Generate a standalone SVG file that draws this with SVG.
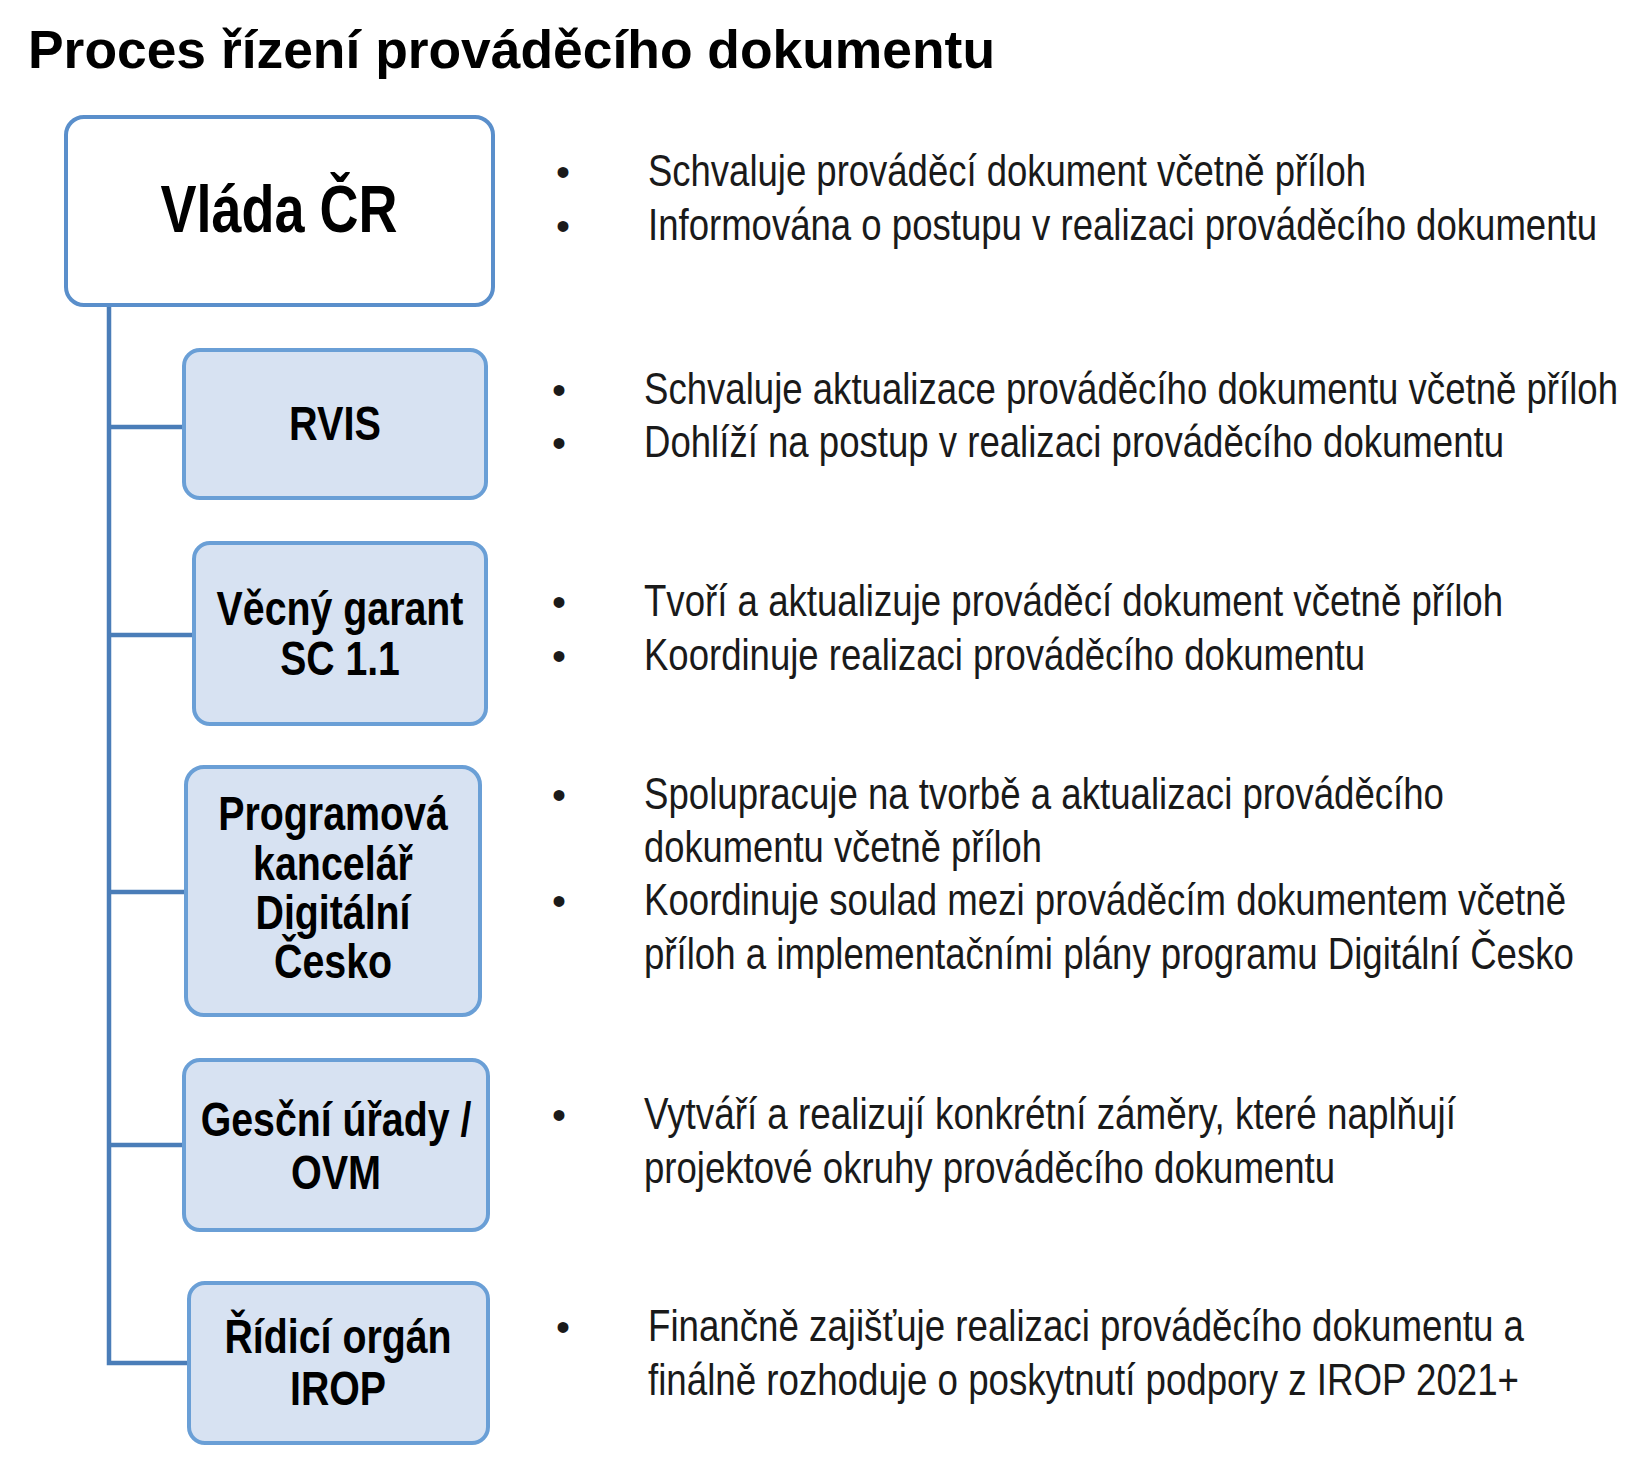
<svg xmlns="http://www.w3.org/2000/svg" width="1646" height="1468" viewBox="0 0 1646 1468">
<style>
.title{font-family:"Liberation Sans",Arial,sans-serif;font-weight:bold;font-size:53.5px;fill:#000}
.box{fill:#D7E2F2;stroke:#6A9FD6;stroke-width:4}
.top{fill:#FFFFFF;stroke:#5A8FCB;stroke-width:4}
.lbl{font-family:"Liberation Sans",Arial,sans-serif;font-weight:bold;font-size:48px;fill:#000;text-anchor:middle}
.big{font-size:66px}
.txt{font-family:"Liberation Sans",Arial,sans-serif;font-size:44px;fill:#1A1A1A}
.bul{font-family:"Liberation Sans",Arial,sans-serif;font-size:40px;fill:#1A1A1A}
.con{fill:none;stroke:#4A7DB8;stroke-width:4.5}
</style>
<rect width="1646" height="1468" fill="#FFFFFF"/>
<text class="title" x="28" y="68" textLength="967" lengthAdjust="spacingAndGlyphs">Proces řízení prováděcího dokumentu</text>

<g id="connectors">
<path class="con" d="M109,305 V1363 H189"/>
<path class="con" d="M109,427 H184"/>
<path class="con" d="M109,635 H194"/>
<path class="con" d="M109,892 H186"/>
<path class="con" d="M109,1145 H184"/>
</g>

<g id="vlada">
<rect class="top" x="66" y="117" width="427" height="188" rx="18"/>
<text class="lbl big" transform="matrix(0.82 0 0 1 279 232)" textLength="289" lengthAdjust="spacingAndGlyphs">Vláda ČR</text>
</g>
<g id="rvis">
<rect class="box" x="184" y="350" width="302" height="148" rx="16"/>
<text class="lbl" transform="matrix(0.82 0 0 1 335 440)" textLength="112" lengthAdjust="spacingAndGlyphs">RVIS</text>
</g>
<g id="vecny-garant">
<rect class="box" x="194" y="543" width="292" height="181" rx="16"/>
<text class="lbl" transform="matrix(0.82 0 0 1 340 625)" textLength="301" lengthAdjust="spacingAndGlyphs">Věcný garant</text>
<text class="lbl" transform="matrix(0.82 0 0 1 340 675)" textLength="146" lengthAdjust="spacingAndGlyphs">SC 1.1</text>
</g>
<g id="programova-kancelar">
<rect class="box" x="186" y="767" width="294" height="248" rx="18"/>
<text class="lbl" transform="matrix(0.82 0 0 1 333 830)" textLength="280" lengthAdjust="spacingAndGlyphs">Programová</text>
<text class="lbl" transform="matrix(0.82 0 0 1 333 880)" textLength="195" lengthAdjust="spacingAndGlyphs">kancelář</text>
<text class="lbl" transform="matrix(0.82 0 0 1 333 929)" textLength="189" lengthAdjust="spacingAndGlyphs">Digitální</text>
<text class="lbl" transform="matrix(0.82 0 0 1 333 978)" textLength="144" lengthAdjust="spacingAndGlyphs">Česko</text>
</g>
<g id="gescni-urady">
<rect class="box" x="184" y="1060" width="304" height="170" rx="16"/>
<text class="lbl" transform="matrix(0.82 0 0 1 336 1136)" textLength="330" lengthAdjust="spacingAndGlyphs">Gesční úřady /</text>
<text class="lbl" transform="matrix(0.82 0 0 1 336 1189)" textLength="110" lengthAdjust="spacingAndGlyphs">OVM</text>
</g>
<g id="ridici-organ">
<rect class="box" x="189" y="1283" width="299" height="160" rx="16"/>
<text class="lbl" transform="matrix(0.82 0 0 1 338 1353)" textLength="277" lengthAdjust="spacingAndGlyphs">Řídicí orgán</text>
<text class="lbl" transform="matrix(0.82 0 0 1 338 1405)" textLength="117" lengthAdjust="spacingAndGlyphs">IROP</text>
</g>

<g id="desc-vlada">
<text class="bul" x="556" y="186">•</text>
<text class="bul" x="556" y="240">•</text>
<text class="txt" transform="matrix(0.82 0 0 1 648 186)" textLength="875.6" lengthAdjust="spacingAndGlyphs">Schvaluje prováděcí dokument včetně příloh</text>
<text class="txt" transform="matrix(0.82 0 0 1 648 240)" textLength="1157.3" lengthAdjust="spacingAndGlyphs">Informována o postupu v realizaci prováděcího dokumentu</text>
</g>
<g id="desc-rvis">
<text class="bul" x="552" y="404">•</text>
<text class="bul" x="552" y="457">•</text>
<text class="txt" transform="matrix(0.82 0 0 1 644 404)" textLength="1187.8" lengthAdjust="spacingAndGlyphs">Schvaluje aktualizace prováděcího dokumentu včetně příloh</text>
<text class="txt" transform="matrix(0.82 0 0 1 644 457)" textLength="1048.8" lengthAdjust="spacingAndGlyphs">Dohlíží na postup v realizaci prováděcího dokumentu</text>
</g>
<g id="desc-vecny">
<text class="bul" x="552" y="616">•</text>
<text class="bul" x="552" y="670">•</text>
<text class="txt" transform="matrix(0.82 0 0 1 644 616)" textLength="1047.6" lengthAdjust="spacingAndGlyphs">Tvoří a aktualizuje prováděcí dokument včetně příloh</text>
<text class="txt" transform="matrix(0.82 0 0 1 644 670)" textLength="879.3" lengthAdjust="spacingAndGlyphs">Koordinuje realizaci prováděcího dokumentu</text>
</g>
<g id="desc-programova">
<text class="bul" x="552" y="809">•</text>
<text class="bul" x="552" y="915">•</text>
<text class="txt" transform="matrix(0.82 0 0 1 644 809)" textLength="975.6" lengthAdjust="spacingAndGlyphs">Spolupracuje na tvorbě a aktualizaci prováděcího</text>
<text class="txt" transform="matrix(0.82 0 0 1 644 862)" textLength="485.4" lengthAdjust="spacingAndGlyphs">dokumentu včetně příloh</text>
<text class="txt" transform="matrix(0.82 0 0 1 644 915)" textLength="1124.4" lengthAdjust="spacingAndGlyphs">Koordinuje soulad mezi prováděcím dokumentem včetně</text>
<text class="txt" transform="matrix(0.82 0 0 1 644 969)" textLength="1134.1" lengthAdjust="spacingAndGlyphs">příloh a implementačními plány programu Digitální Česko</text>
</g>
<g id="desc-gescni">
<text class="bul" x="552" y="1129">•</text>
<text class="txt" transform="matrix(0.82 0 0 1 644 1129)" textLength="990.2" lengthAdjust="spacingAndGlyphs">Vytváří a realizují konkrétní záměry, které naplňují</text>
<text class="txt" transform="matrix(0.82 0 0 1 644 1183)" textLength="842.7" lengthAdjust="spacingAndGlyphs">projektové okruhy prováděcího dokumentu</text>
</g>
<g id="desc-ridici">
<text class="bul" x="556" y="1341">•</text>
<text class="txt" transform="matrix(0.82 0 0 1 648 1341)" textLength="1068.3" lengthAdjust="spacingAndGlyphs">Finančně zajišťuje realizaci prováděcího dokumentu a</text>
<text class="txt" transform="matrix(0.82 0 0 1 648 1395)" textLength="1062.2" lengthAdjust="spacingAndGlyphs">finálně rozhoduje o poskytnutí podpory z IROP 2021+</text>
</g>
</svg>
